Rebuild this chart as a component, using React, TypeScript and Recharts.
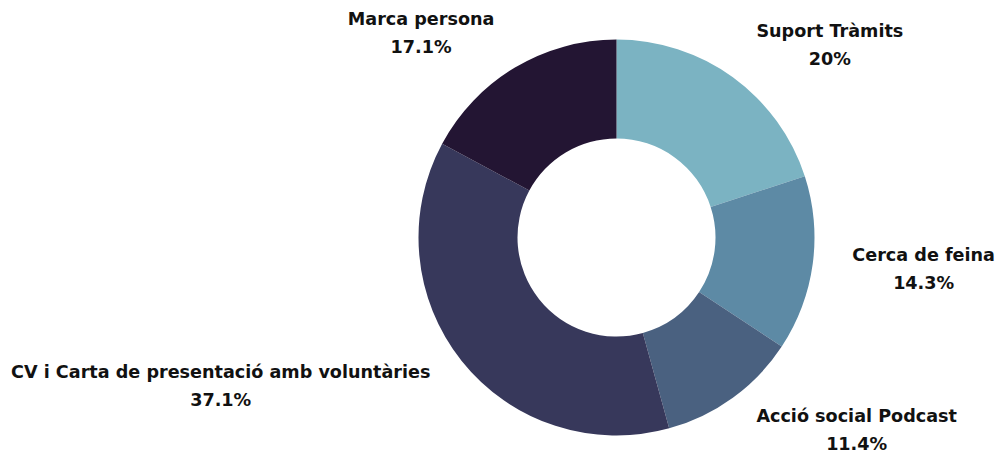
import React, { useLayoutEffect, useRef, useState } from 'react';
import { PieChart, Pie, Cell } from 'recharts';

const categories = [
  'Suport Tràmits',
  'Cerca de feina',
  'Acció social Podcast',
  'CV i Carta de presentació amb voluntàries',
  'Marca persona',
];
const counts = [7, 5, 4, 13, 6];
const colors = ['#7bb3c2', '#5d8aa5', '#4a6180', '#37385b', '#231533'];

const total = counts.reduce((a, b) => a + b, 0);
const data = categories.map((name, i) => ({ name, value: counts[i] }));

const fmtPct = (v: number) => {
  const p = ((v / total) * 100).toFixed(1);
  return (p.endsWith('.0') ? p.slice(0, -2) : p) + '%';
};

const RAD = Math.PI / 180;
const FONT = '"DejaVu Sans", sans-serif';

// two-line label, centred block whose near edge sits on the anchor point
const SliceLabel = (props: any) => {
  const { cx, cy, midAngle, outerRadius, name, value } = props;
  const ref = useRef<SVGTextElement>(null);
  const [w, setW] = useState(0);
  useLayoutEffect(() => {
    if (ref.current) setW(ref.current.getComputedTextLength());
  }, [name]);
  const r = outerRadius + 40;
  const cos = Math.cos(-midAngle * RAD);
  const sin = Math.sin(-midAngle * RAD);
  const ex = cx + r * cos;
  const ey = cy + r * sin;
  const mx = cos >= 0 ? ex + w / 2 : ex - w / 2;
  return (
    <g fontFamily={FONT} fontWeight={700} fontSize={17.6} fill="#111">
      <text ref={ref} x={mx} y={ey - 14} textAnchor="middle" dominantBaseline="central">
        {name}
      </text>
      <text x={mx} y={ey + 14} textAnchor="middle" dominantBaseline="central">
        {fmtPct(value)}
      </text>
    </g>
  );
};

export default function App() {
  return (
    <div style={{ position: 'absolute', left: 0, top: 0, width: 1000, height: 453, background: '#fff' }}>
      <PieChart width={1000} height={453} margin={{ top: 0, right: 0, bottom: 0, left: 0 }}>
        <Pie
          data={data}
          dataKey="value"
          nameKey="name"
          cx={616.5}
          cy={237.5}
          innerRadius={99}
          outerRadius={198}
          startAngle={90}
          endAngle={-270}
          stroke="none"
          label={SliceLabel}
          labelLine={false}
          isAnimationActive={false}
        >
          {data.map((d, i) => (
            <Cell key={d.name} fill={colors[i]} />
          ))}
        </Pie>
      </PieChart>
    </div>
  );
}
